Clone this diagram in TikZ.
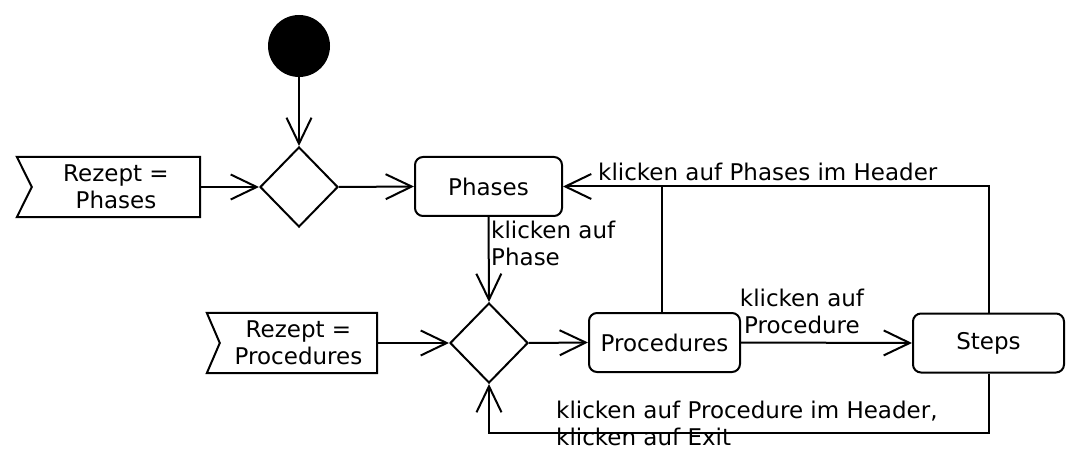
\documentclass[tikz,border=0pt]{standalone}
\usepackage{fontspec}
\setmainfont{DejaVu Sans}
\usetikzlibrary{shapes.geometric,arrows.meta}
\begin{document}
\begin{tikzpicture}[x=1pt,y=-1pt,
  every node/.style={font=\fontsize{23}{27}\selectfont},
  ln/.style={line width=2pt},
  arr/.style={ln,-{Straight Barb[length=26pt,width=25pt,line width=2pt]}},
  act/.style={draw,ln,rounded corners=8pt,minimum height=59pt,inner sep=0pt},
  dec/.style={draw,ln,diamond,minimum width=78pt,minimum height=80pt,inner sep=0pt},
  flagbox/.style={minimum height=60pt,inner sep=0pt,align=center},
  lbl/.style={inner sep=0pt,align=left}]
\useasboundingbox (0,0) rectangle (1080,476);
% nodes
\node[circle,fill=black,minimum size=62pt,inner sep=0pt] (start) at (299,46) {};
\node[dec] (d1) at (299,187) {};
\node[flagbox,minimum width=168pt] (f1) at (116,187) {Rezept =\\Phases};
\draw[ln] ([xshift=-15pt]f1.north west) -- (f1.north east) -- (f1.south east) -- ([xshift=-15pt]f1.south west) -- (f1.west) -- cycle;
\node[act,minimum width=147pt] (phases) at (488.5,186.5) {Phases};
\node[dec] (d2) at (489,343) {};
\node[flagbox,minimum width=157pt] (f2) at (298.5,343) {Rezept =\\Procedures};
\draw[ln] ([xshift=-13pt]f2.north west) -- (f2.north east) -- (f2.south east) -- ([xshift=-13pt]f2.south west) -- (f2.west) -- cycle;
\node[act,minimum width=151pt] (proc) at (664.5,342.5) {Procedures};
\node[act,minimum width=151pt] (steps) at (988.5,343) {Steps};
\coordinate (bl) at (489,433);
\coordinate (br) at (988.5,433);
% connectors
\draw[arr] (start) -- (d1.north);
\draw[arr] (f1.east) -- (d1.west);
\draw[arr] (d1.east) -- (phases.west);
\draw[arr] (phases.south) -- (d2.north);
\draw[arr] (f2.east) -- (d2.west);
\draw[arr] (d2.east) -- (proc.west);
\draw[arr] (proc.east) -- (steps.west);
\draw[arr] (steps.north) |- (phases.east);
\draw[ln] ([xshift=-3pt]proc.north) -- ([xshift=-3pt]proc.north |- phases.east);
\draw[arr] (steps.south) -- (br) -- (bl) -- (d2.south);
% labels
\node[lbl,anchor=north west] (l1) at (491,221) {klicken auf\\Phase};
\node[lbl,anchor=west] (l2) at (598,172) {klicken auf Phases im Header};
\node[inner sep=0pt,align=center] (l3) at (802,311) {klicken auf\\Procedure};
\node[lbl,anchor=north west] (l4) at (556,401) {klicken auf Procedure im Header,\\klicken auf Exit};
\end{tikzpicture}
\end{document}
